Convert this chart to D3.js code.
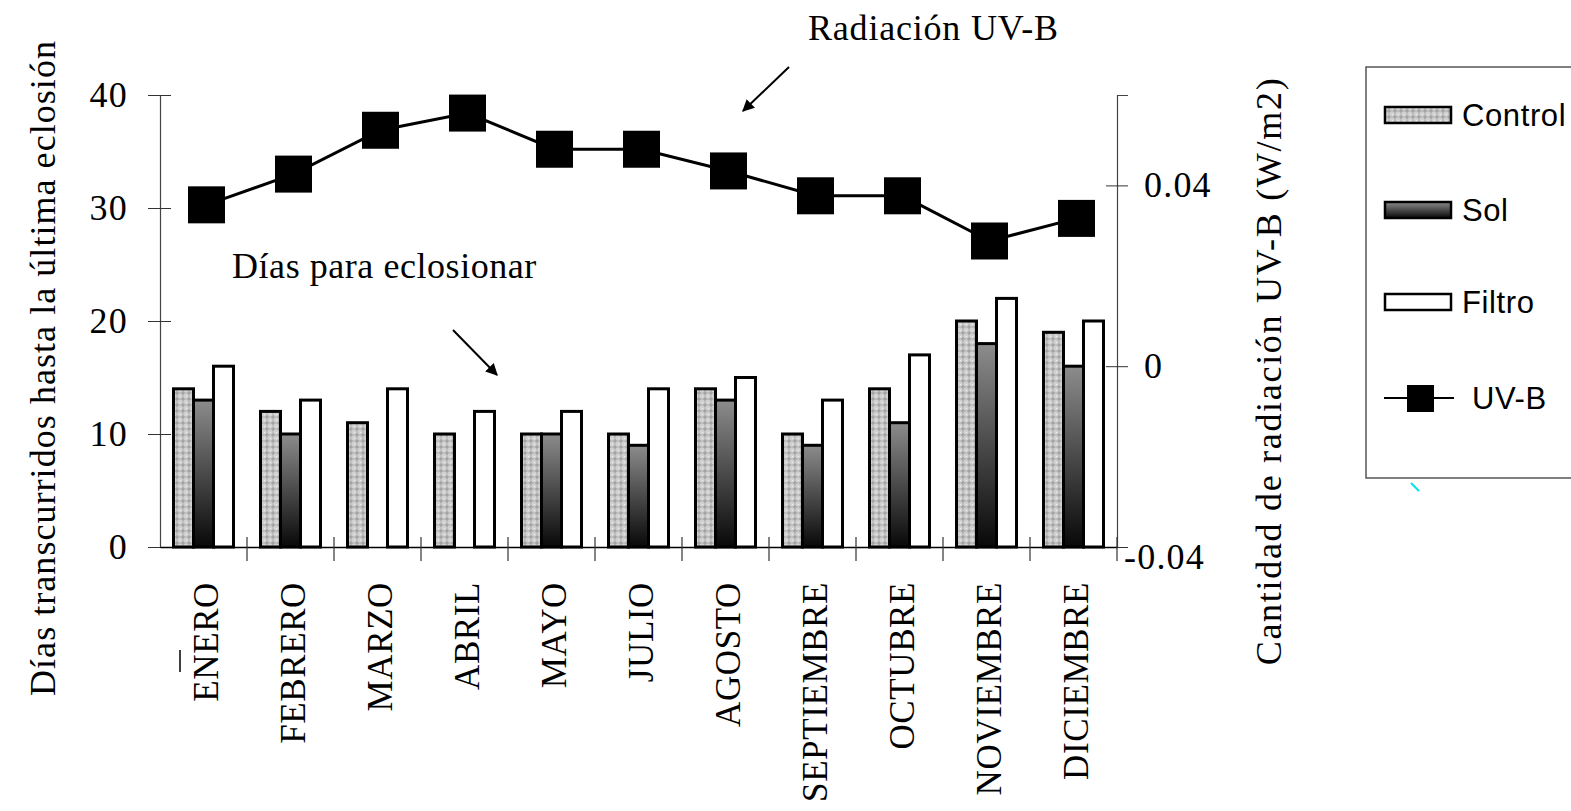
<!DOCTYPE html>
<html>
<head>
<meta charset="utf-8">
<script src="https://cdn.jsdelivr.net/npm/d3@7"></script>
<style>
  body { margin: 0; background: #fff; }
  svg { display: block; }
  text { font-family: "Liberation Serif", "Times New Roman", serif; fill: #000; }
  .sans { font-family: "Liberation Sans", Arial, sans-serif; }
</style>
</head>
<body>
<svg id="chart" width="1571" height="811"></svg>
<script>
// months on the x axis
const months = ["ENERO", "FEBRERO", "MARZO", "ABRIL", "MAYO", "JULIO",
                "AGOSTO", "SEPTIEMBRE", "OCTUBRE", "NOVIEMBRE", "DICIEMBRE"];

// days until the last hatching, per treatment
const control = [14, 12, 11, 10, 10, 10, 14, 10, 14, 20, 19];
const sol     = [13, 10, 0, 0, 10, 9, 13, 9, 11, 18, 16];
const filtro  = [16, 13, 14, 12, 12, 14, 15, 13, 17, 22, 20];

// UV-B radiation (W/m2), right axis
const uvb = [0.0357, 0.0425, 0.0522, 0.0560, 0.0480, 0.0480,
             0.0432, 0.0377, 0.0377, 0.0277, 0.0327];

const series = ["Control", "Sol", "Filtro"];
const leftTicks = [0, 10, 20, 30, 40];
const rightTicks = [-0.04, 0, 0.04];

const svg = d3.select("#chart");

// patterns / gradients for the bar fills
const defs = svg.append("defs");
const pat = defs.append("pattern")
    .attr("id", "hatch")
    .attr("patternUnits", "userSpaceOnUse")
    .attr("width", 6).attr("height", 6);
pat.append("rect").attr("width", 6).attr("height", 6).attr("fill", "#d0d0d0");
pat.append("path").attr("d", "M3 0.5 L3 5.5 M0.5 3 L5.5 3").attr("stroke", "#959595").attr("stroke-width", 1);
pat.append("rect").attr("x", 0).attr("y", 0).attr("width", 1).attr("height", 1).attr("fill", "#f2f2f2");

const grad = defs.append("linearGradient")
    .attr("id", "solGrad")
    .attr("x1", 0).attr("y1", 0).attr("x2", 0).attr("y2", 1);
grad.append("stop").attr("offset", "0%").attr("stop-color", "#8c8c8c");
grad.append("stop").attr("offset", "100%").attr("stop-color", "#080808");

defs.append("marker")
    .attr("id", "arrow")
    .attr("viewBox", "0 0 10 10")
    .attr("refX", 9).attr("refY", 5)
    .attr("markerWidth", 6).attr("markerHeight", 6)
    .attr("markerUnits", "strokeWidth")
    .attr("orient", "auto")
  .append("path")
    .attr("d", "M0 0 L10 5 L0 10 z")
    .attr("fill", "#000");

const fills = { Control: "url(#hatch)", Sol: "url(#solGrad)", Filtro: "#fff" };
const values = { Control: control, Sol: sol, Filtro: filtro };

// scales
const x = d3.scaleBand().domain(months).range([160, 1117]);
const xs = d3.scaleBand().domain(series).range([0, x.bandwidth()]).paddingOuter(0.675);
const y = d3.scaleLinear().domain([0, 40]).range([547, 95]);
const y2 = d3.scaleLinear().domain([-0.04, 0.06]).range([547, 95]);

// bars
const rows = [];
months.forEach((m, i) => series.forEach(s => rows.push({ m, s, v: values[s][i] })));

svg.append("g").selectAll("rect")
  .data(rows.filter(d => d.v > 0))
  .join("rect")
    .attr("x", d => x(d.m) + xs(d.s))
    .attr("y", d => y(d.v))
    .attr("width", xs.bandwidth())
    .attr("height", d => y(0) - y(d.v))
    .attr("fill", d => fills[d.s])
    .attr("stroke", "#000")
    .attr("stroke-width", 3);

// left axis (ticks cross the line)
const gl = svg.append("g")
    .attr("transform", "translate(160,0)")
    .call(d3.axisLeft(y).tickValues(leftTicks).tickSize(12).tickPadding(20));
gl.select(".domain").attr("stroke", "#444").attr("stroke-width", 1.2);
gl.selectAll(".tick line").attr("x2", 11).attr("x1", -12).attr("stroke", "#333");
gl.selectAll(".tick text")
    .attr("font-size", 36)
    .attr("letter-spacing", 1.2)
    .attr("font-family", "Liberation Serif, serif");

// right axis
const gr = svg.append("g")
    .attr("transform", "translate(1117,0)")
    .call(d3.axisRight(y2).tickValues(rightTicks).tickSize(11).tickPadding(16)
      .tickFormat(d => d === 0 ? "0" : d3.format(".2f")(d).replace("−", "-")));
gr.select(".domain").attr("stroke", "#444").attr("stroke-width", 1.2);
gr.selectAll(".tick line").attr("x1", -11).attr("stroke", "#333");
gr.selectAll(".tick text")
    .attr("font-size", 36)
    .attr("letter-spacing", 1.2)
    .attr("font-family", "Liberation Serif, serif")
    .attr("dx", d => d < 0 ? -20 : 0)
    .attr("dy", d => d < 0 ? "0.6em" : "0.32em");

// bottom axis with month labels, ticks at the band edges
const gb = svg.append("g")
    .attr("transform", "translate(0,547)")
    .call(d3.axisBottom(x).tickSize(0));
gb.select(".domain").attr("stroke", "#000").attr("stroke-width", 1.5);
gb.selectAll(".tick text")
    .attr("font-size", 35)
    .attr("letter-spacing", 0.6)
    .attr("font-family", "Liberation Serif, serif")
    .attr("transform", "rotate(-90)")
    .attr("x", -35).attr("y", 2)
    .attr("dy", "0.35em")
    .attr("text-anchor", "end");

const edges = months.slice(1).map(m => x(m)).concat([x.range()[1]]);
svg.append("g").selectAll("line")
  .data(edges)
  .join("line")
    .attr("x1", d => d).attr("x2", d => d)
    .attr("y1", 537).attr("y2", 561)
    .attr("stroke", "#333").attr("stroke-width", 1.2);

// small stray mark next to ENERO
svg.append("line")
    .attr("x1", x("ENERO") + 20).attr("x2", x("ENERO") + 20)
    .attr("y1", 650).attr("y2", 672)
    .attr("stroke", "#000").attr("stroke-width", 1.5);

// UV-B line with square markers
const cx = m => x(m) + x.bandwidth() / 2 + 3;
svg.append("path")
    .datum(uvb)
    .attr("fill", "none")
    .attr("stroke", "#000")
    .attr("stroke-width", 3)
    .attr("d", d3.line().x((d, i) => cx(months[i])).y(d => y2(d)));

const ms = 37;
svg.append("g").selectAll("rect")
  .data(uvb)
  .join("rect")
    .attr("x", (d, i) => cx(months[i]) - ms / 2)
    .attr("y", d => y2(d) - ms / 2)
    .attr("width", ms).attr("height", ms)
    .attr("fill", "#000");

// axis titles
svg.append("text")
    .attr("transform", "translate(55,368) rotate(-90)")
    .attr("text-anchor", "middle")
    .attr("font-size", 36)
    .attr("letter-spacing", 1.05)
    .text("Días transcurridos hasta la última eclosión");

svg.append("text")
    .attr("transform", "translate(1281,371) rotate(-90)")
    .attr("text-anchor", "middle")
    .attr("font-size", 36)
    .attr("letter-spacing", 1.7)
    .text("Cantidad de radiación UV-B (W/m2)");

// annotations
svg.append("text")
    .attr("x", 808).attr("y", 40)
    .attr("font-size", 36)
    .attr("letter-spacing", 0.8)
    .text("Radiación UV-B");
svg.append("line")
    .attr("x1", 789).attr("y1", 67).attr("x2", 743).attr("y2", 111)
    .attr("stroke", "#000").attr("stroke-width", 2)
    .attr("marker-end", "url(#arrow)");

svg.append("text")
    .attr("x", 232).attr("y", 278)
    .attr("font-size", 36)
    .attr("letter-spacing", 0.55)
    .text("Días para eclosionar");
svg.append("line")
    .attr("x1", 453).attr("y1", 330).attr("x2", 497).attr("y2", 375)
    .attr("stroke", "#000").attr("stroke-width", 2)
    .attr("marker-end", "url(#arrow)");

// legend
const lg = svg.append("g");
lg.append("rect")
    .attr("x", 1366).attr("y", 67)
    .attr("width", 260).attr("height", 411)
    .attr("fill", "#fff")
    .attr("stroke", "#555").attr("stroke-width", 1.5);

const legendRows = [
  { label: "Control", cy: 115 },
  { label: "Sol", cy: 210 },
  { label: "Filtro", cy: 302 }
];
legendRows.forEach(r => {
  lg.append("rect")
      .attr("x", 1385).attr("y", r.cy - 8)
      .attr("width", 66).attr("height", 16)
      .attr("fill", fills[r.label])
      .attr("stroke", "#000").attr("stroke-width", 2.5);
  lg.append("text")
      .attr("class", "sans")
      .attr("x", 1462).attr("y", r.cy)
      .attr("dy", "0.36em")
      .attr("font-size", 31)
      .attr("letter-spacing", 0.6)
      .text(r.label);
});
lg.append("line")
    .attr("x1", 1384).attr("x2", 1454)
    .attr("y1", 398).attr("y2", 398)
    .attr("stroke", "#000").attr("stroke-width", 2);
lg.append("rect")
    .attr("x", 1407).attr("y", 385)
    .attr("width", 27).attr("height", 27)
    .attr("fill", "#000");
lg.append("text")
    .attr("class", "sans")
    .attr("x", 1472).attr("y", 398)
    .attr("dy", "0.36em")
    .attr("font-size", 31)
    .attr("letter-spacing", 0.6)
    .text("UV-B");

// small cyan tick below the legend
svg.append("line")
    .attr("x1", 1411).attr("y1", 483).attr("x2", 1419).attr("y2", 491)
    .attr("stroke", "#00e0f0").attr("stroke-width", 2);
</script>
</body>
</html>
